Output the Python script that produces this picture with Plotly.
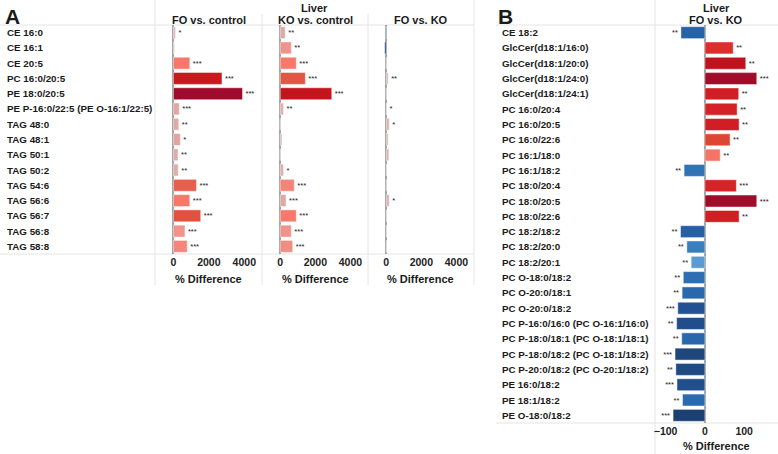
import plotly.graph_objects as go

W, H = 778, 454

# ---------------- Data: panel A ----------------
lipids_a = ["CE 16:0", "CE 16:1", "CE 20:5", "PC 16:0/20:5", "PE 18:0/20:5",
            "PE P-16:0/22:5 (PE O-16:1/22:5)", "TAG 48:0", "TAG 48:1", "TAG 50:1",
            "TAG 50:2", "TAG 54:6", "TAG 56:6", "TAG 56:7", "TAG 56:8", "TAG 58:8"]
fo_vs_control = [120, 60, 925, 2740, 3900, 330, 300, 390, 260, 270, 1300, 925, 1540, 650, 780]
fo_vs_control_sig = ["*", "", "***", "***", "***", "***", "**", "*", "**", "**", "***", "***", "***", "***", "***"]
ko_vs_control = [285, 630, 915, 1430, 2935, 190, 0, 100, 0, 190, 800, 330, 915, 630, 710]
ko_vs_control_sig = ["**", "**", "***", "***", "***", "**", "", "", "", "*", "***", "***", "***", "***", "***"]
fo_vs_ko_a = [-60, -90, 0, 110, 0, 20, 170, 110, 150, 10, 0, 170, 40, 30, 25]
fo_vs_ko_a_sig = ["", "", "", "**", "", "*", "*", "", "", "", "", "*", "", "", ""]
tick_vals_a = [0, 2000, 4000]

# ---------------- Data: panel B ----------------
lipids_b = ["CE 18:2", "GlcCer(d18:1/16:0)", "GlcCer(d18:1/20:0)", "GlcCer(d18:1/24:0)",
            "GlcCer(d18:1/24:1)", "PC 16:0/20:4", "PC 16:0/20:5", "PC 16:0/22:6",
            "PC 16:1/18:0", "PC 16:1/18:2", "PC 18:0/20:4", "PC 18:0/20:5", "PC 18:0/22:6",
            "PC 18:2/18:2", "PC 18:2/20:0", "PC 18:2/20:1", "PC O-18:0/18:2",
            "PC O-20:0/18:1", "PC O-20:0/18:2", "PC P-16:0/16:0 (PC O-16:1/16:0)",
            "PC P-18:0/18:1 (PC O-18:1/18:1)", "PC P-18:0/18:2 (PC O-18:1/18:2)",
            "PC P-20:0/18:2 (PC O-20:1/18:2)", "PE 16:0/18:2", "PE 18:1/18:2", "PE O-18:0/18:2"]
fo_vs_ko_b = [-61, 72, 104, 132, 86, 82, 87, 64, 39, -53, 80, 132, 87,
              -62, -46, -35, -55, -58, -69, -72, -59, -76, -74, -71, -57, -81]
fo_vs_ko_b_sig = ["**", "**", "**", "***", "**", "**", "**", "**", "**", "**", "***", "***", "**",
                  "**", "**", "**", "**", "**", "***", "**", "**", "***", "**", "***", "**", "***"]
tick_vals_b = [-100, 0, 100]

# ---------------- Styling helpers ----------------
FONT = "Liberation Sans, Arial, sans-serif"
eps = 1e-6


def make_scale(stops, cmin, cmax):
    out = []
    last = -1
    for v, c in stops:
        p = (v - cmin) / (cmax - cmin)
        p = min(max(p, 0), 1)
        if p <= last:
            p = last + eps
        out.append([p, c])
        last = p
    out[-1][0] = 1.0
    return out


cmin_a, cmax_a = -100, 3900
scale_a = make_scale([(-100, "#1d3f72"), (-75, "#2a5a98"), (-50, "#6aa6db"), (0, "#a7c8e6"),
                      (0, "#d9c4c3"), (300, "#dcaaa7"), (650, "#f0938b"), (900, "#f87a6c"),
                      (1400, "#e35845"), (2000, "#d83a30"), (2800, "#c8161c"), (3900, "#9e0b2c")],
                     cmin_a, cmax_a)

cmin_b, cmax_b = -85, 135
scale_b = make_scale([(-85, "#1c3a68"), (-75, "#1f4880"), (-65, "#2458a0"), (-58, "#2a68ae"),
                      (-46, "#3a7ec2"), (-35, "#5c9bd1"), (0, "#9cc2e4"),
                      (0, "#f8b0a8"), (39, "#f47566"), (64, "#de4634"), (75, "#d8282a"),
                      (90, "#cf1b23"), (104, "#c0111f"), (135, "#9e0b2c")],
                     cmin_b, cmax_b)

fig = go.Figure()


def add_bars(vals, sig, cats, xa, ya, scale, cmin, cmax):
    fig.add_trace(go.Bar(
        x=vals, y=cats, orientation="h", xaxis=xa, yaxis=ya,
        text=sig, textposition="outside", constraintext="none", cliponaxis=False,
        textfont=dict(size=7.5, color="#222222", family=FONT),
        marker=dict(color=vals, colorscale=scale, cmin=cmin, cmax=cmax,
                    line=dict(color="rgba(255,255,255,0.45)", width=1)),
        showlegend=False, hoverinfo="x+y"))


add_bars(fo_vs_control, fo_vs_control_sig, lipids_a, "x", "y", scale_a, cmin_a, cmax_a)
add_bars(ko_vs_control, ko_vs_control_sig, lipids_a, "x2", "y", scale_a, cmin_a, cmax_a)
add_bars(fo_vs_ko_a, fo_vs_ko_a_sig, lipids_a, "x3", "y", scale_a, cmin_a, cmax_a)
add_bars(fo_vs_ko_b, fo_vs_ko_b_sig, lipids_b, "x4", "y2", scale_b, cmin_b, cmax_b)


def px_x(p):
    return p / W


def px_y(p):
    return 1 - p / H


tickfont = dict(size=10.5, color="#222222", family=FONT, weight="bold")
xcommon = dict(showgrid=False, zeroline=True, zerolinecolor="#a3a3a3", zerolinewidth=1.5,
               showline=False, ticks="", tickfont=tickfont, fixedrange=True)
range_a = [-1040, 5000]
fig.update_layout(
    xaxis=dict(domain=[px_x(155), px_x(262)], anchor="y", range=range_a, tickvals=tick_vals_a, **xcommon),
    xaxis2=dict(domain=[px_x(262), px_x(368)], anchor="y", range=range_a, tickvals=tick_vals_a, **xcommon),
    xaxis3=dict(domain=[px_x(368), px_x(474)], anchor="y", range=range_a, tickvals=tick_vals_a, **xcommon),
    xaxis4=dict(domain=[px_x(655), 1.0], anchor="y2", range=[-127, 186], tickvals=tick_vals_b, **xcommon),
    yaxis=dict(domain=[px_y(254), px_y(25)], type="category", categoryarray=lipids_a,
               range=[len(lipids_a) - 0.5, -0.5], showticklabels=False, showgrid=False,
               zeroline=False, fixedrange=True),
    yaxis2=dict(domain=[px_y(423), px_y(25)], type="category", categoryarray=lipids_b,
                range=[len(lipids_b) - 0.5, -0.5], showticklabels=False, showgrid=False,
                zeroline=False, fixedrange=True, anchor="x4"),
    bargap=0.22,
    width=W, height=H, margin=dict(l=0, r=0, t=0, b=0),
    paper_bgcolor="white", plot_bgcolor="white",
    font=dict(family=FONT),
)

ann = []
# row labels
for name in lipids_a:
    ann.append(dict(x=px_x(5), y=name, xref="paper", yref="y", text="<b>%s</b>" % name,
                    xanchor="left", yanchor="middle", showarrow=False,
                    font=dict(size=9.8, color="#1a1a1a", family=FONT)))
for name in lipids_b:
    ann.append(dict(x=px_x(500), y=name, xref="paper", yref="y2", text="<b>%s</b>" % name,
                    xanchor="left", yanchor="middle", showarrow=False,
                    font=dict(size=9.8, color="#1a1a1a", family=FONT)))


def txt(xp, yp, s, size, anchor="center"):
    ann.append(dict(x=px_x(xp), y=px_y(yp), xref="paper", yref="paper", text="<b>%s</b>" % s,
                    xanchor=anchor, yanchor="middle", showarrow=False,
                    font=dict(size=size, color="#1a1a1a", family=FONT)))


txt(3, 16, "A", 21, "left")
txt(496, 16, "B", 21, "left")
txt(314, 8, "Liver", 11)
txt(208.5, 20, "FO vs. control", 11)
txt(315, 20, "KO vs. control", 11)
txt(421, 20, "FO vs. KO", 11)
txt(716, 8, "Liver", 11)
txt(716, 20, "FO vs. KO", 11)
txt(208.5, 279, "% Difference", 11)
txt(315, 279, "% Difference", 11)
txt(421, 279, "% Difference", 11)
txt(716, 446, "% Difference", 11)
fig.update_layout(annotations=ann)

# separator lines
grid = "#e4e4e4"
shapes = []


def line(x0, y0, x1, y1):
    shapes.append(dict(type="line", xref="paper", yref="paper", x0=px_x(x0), x1=px_x(x1),
                       y0=px_y(y0), y1=px_y(y1), line=dict(color=grid, width=1), layer="below"))


line(155, 0, 155, 285)
line(262, 14, 262, 285)
line(368, 14, 368, 285)
line(474, 0, 474, 285)
line(0, 25, 474, 25)
line(0, 254, 474, 254)
line(655, 0, 655, 454)
line(496, 25, 778, 25)
line(496, 423, 778, 423)
fig.update_layout(shapes=shapes)

fig.write_html("out.html", config={"displayModeBar": False},
               post_script="document.body.style.margin='0';document.body.style.overflow='hidden';")
